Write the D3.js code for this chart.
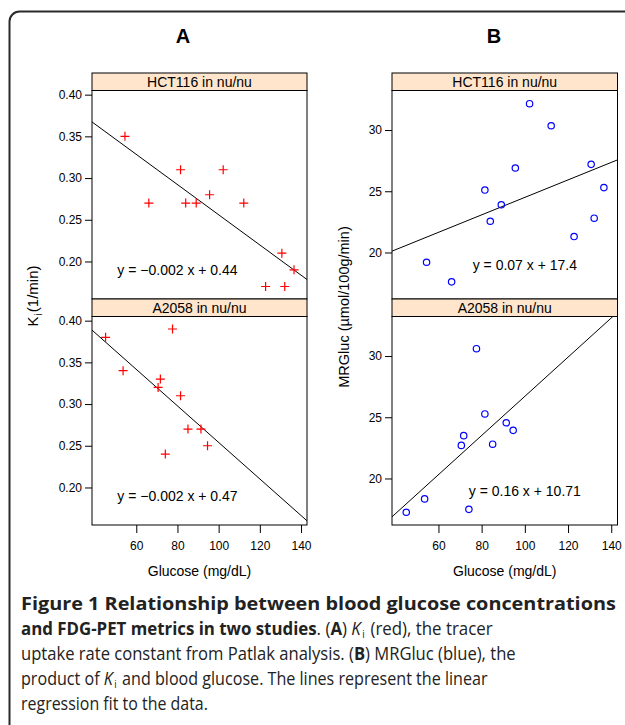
<!DOCTYPE html>
<html>
  <head>
    <style>
      html,
      body { margin: 0; background: #fff; }
      svg { display: block; }
      .chart text { font-family: "Liberation Sans", Arial, sans-serif; fill: #000; }
      .caption text { font-family: "Open Sans", "Noto Sans", sans-serif; fill: #222; }
    </style>
    <script src="https://d3js.org/d3.v7.js"></script>
  </head>
  <body>
    <svg class="chart"></svg>

    <script>
      const width = 625;
      const height = 725;

      // data
      const glucoseHCT = [54.5, 66.1, 81.5, 84.0, 89.1, 95.6, 102.2, 112.2, 122.8, 130.7, 132.1, 136.6];
      const kiHCT = [0.35, 0.27, 0.31, 0.27, 0.27, 0.28, 0.31, 0.27, 0.17, 0.21, 0.17, 0.19];
      const mrglucHCT = [19.2, 17.6, 25.1, 22.55, 23.9, 26.9, 32.15, 30.35, 21.3, 27.2, 22.8, 25.3];

      const glucoseA2058 = [45.1, 53.6, 70.6, 71.7, 74.1, 77.6, 81.5, 85.1, 91.4, 94.6];
      const kiA2058 = [0.38, 0.34, 0.32, 0.33, 0.24, 0.39, 0.31, 0.27, 0.27, 0.25];
      const mrglucA2058 = [17.24, 18.33, 22.7, 23.5, 17.48, 30.6, 25.27, 22.8, 24.55, 23.93];

      // regression lines [slope, intercept]
      const kiFitHCT = [-0.00181, 0.437];
      const kiFitA2058 = [-0.00219, 0.473];
      const mrglucFitHCT = [0.0714, 17.36];
      const mrglucFitA2058 = [0.16, 10.71];

      const kiEquations = ['y = \u22120.002 x + 0.44', 'y = \u22120.002 x + 0.47'];
      const mrglucEquations = ['y = 0.07 x + 17.4', 'y = 0.16 x + 10.71'];

      const stripLabels = ['HCT116 in nu/nu', 'A2058 in nu/nu'];
      const glucoseTicks = [60, 80, 100, 120, 140];
      const kiTicks = [0.20, 0.25, 0.30, 0.35, 0.40];
      const mrglucTicks = [20, 25, 30];

      const svg = d3.select('svg')
        .attr('width', width)
        .attr('height', height);

      // outer frame with rounded corner
      svg.append('path')
        .attr('d', 'M9.5,725 V21.5 A10,10 0 0 1 19.5,11.5 H625')
        .attr('fill', 'none')
        .attr('stroke', '#2a2a2a')
        .attr('stroke-width', 2);

      // layout
      const stripH = 17.5;
      const rows = [
        { top: 73, bottom: 299 },
        { top: 299, bottom: 525 }
      ];

      const columns = [
        {
          title: 'A', titleX: 183, x0: 92, x1: 307,
          yDomain: [0.155, 0.405], ticks: kiTicks, format: d3.format('.2f'),
          eqX: 80, eqY: 0.19, eqs: kiEquations,
          panels: [
            { g: glucoseHCT, v: kiHCT, fit: kiFitHCT },
            { g: glucoseA2058, v: kiA2058, fit: kiFitA2058 }
          ],
          marker: 'plus'
        },
        {
          title: 'B', titleX: 494, x0: 392, x1: 617.5,
          yDomain: [16.2, 33.23], ticks: mrglucTicks, format: d3.format('d'),
          eqX: 100, eqY: 19, eqs: mrglucEquations,
          panels: [
            { g: glucoseHCT, v: mrglucHCT, fit: mrglucFitHCT },
            { g: glucoseA2058, v: mrglucA2058, fit: mrglucFitA2058 }
          ],
          marker: 'circle'
        }
      ];

      columns.forEach((col, ci) => {
        const x = d3.scaleLinear().domain([38.5, 142.9]).range([col.x0, col.x1]);

        svg.append('text')
          .attr('x', col.titleX)
          .attr('y', 43)
          .attr('text-anchor', 'middle')
          .style('font-size', '20px')
          .style('font-weight', 'bold')
          .text(col.title);

        col.panels.forEach((p, ri) => {
          const row = rows[ri];
          const bodyTop = row.top + stripH;
          const y = d3.scaleLinear().domain(col.yDomain).range([row.bottom, bodyTop]);
          const g = svg.append('g');

          const clipId = `clip-${ci}-${ri}`;
          svg.append('clipPath').attr('id', clipId)
            .append('rect')
            .attr('x', col.x0).attr('y', bodyTop)
            .attr('width', col.x1 - col.x0).attr('height', row.bottom - bodyTop);

          // strip
          g.append('rect')
            .attr('x', col.x0).attr('y', row.top)
            .attr('width', col.x1 - col.x0).attr('height', stripH)
            .attr('fill', '#ffe5cc')
            .attr('stroke', '#000');

          g.append('text')
            .attr('x', (col.x0 + col.x1) / 2)
            .attr('y', row.top + stripH / 2 + 5)
            .attr('text-anchor', 'middle')
            .style('font-size', '14px')
            .text(stripLabels[ri]);

          // panel box
          g.append('rect')
            .attr('x', col.x0).attr('y', bodyTop)
            .attr('width', col.x1 - col.x0).attr('height', row.bottom - bodyTop)
            .attr('fill', 'none')
            .attr('stroke', '#000');

          // regression line
          const [slope, icpt] = p.fit;
          const xd = x.domain();
          g.append('line')
            .attr('clip-path', `url(#${clipId})`)
            .attr('x1', x(xd[0])).attr('y1', y(icpt + slope * xd[0]))
            .attr('x2', x(xd[1])).attr('y2', y(icpt + slope * xd[1]))
            .attr('stroke', '#000')
            .attr('stroke-width', 1);

          // points
          const pts = p.g.map((gv, i) => [gv, p.v[i]]);
          if (col.marker === 'plus') {
            g.selectAll('path.pt')
              .data(pts)
              .join('path')
              .attr('class', 'pt')
              .attr('transform', (d) => `translate(${x(d[0])},${y(d[1])})`)
              .attr('d', 'M-4.5,0H4.5M0,-4.5V4.5')
              .attr('stroke', '#ff0000')
              .attr('stroke-width', 1.2)
              .attr('fill', 'none');
          } else {
            g.selectAll('circle.pt')
              .data(pts)
              .join('circle')
              .attr('class', 'pt')
              .attr('cx', (d) => x(d[0]))
              .attr('cy', (d) => y(d[1]))
              .attr('r', 3.2)
              .attr('stroke', '#0000ff')
              .attr('stroke-width', 1.2)
              .attr('fill', 'none');
          }

          // equation
          g.append('text')
            .attr('x', x(col.eqX))
            .attr('y', y(col.eqY) + 5)
            .attr('text-anchor', 'middle')
            .style('font-size', '14px')
            .text(col.eqs[ri]);

          // y axis
          const yAxis = g.append('g')
            .attr('transform', `translate(${col.x0},0)`)
            .call(d3.axisLeft(y).tickValues(col.ticks).tickFormat(col.format).tickSize(7).tickPadding(3));
          yAxis.select('.domain').remove();
          yAxis.selectAll('text').style('font-size', '12px').attr('font-family', null);

          // x axis on the bottom panel only
          if (ri === rows.length - 1) {
            const xAxis = g.append('g')
              .attr('transform', `translate(0,${row.bottom})`)
              .call(d3.axisBottom(x).tickValues(glucoseTicks).tickSize(8).tickPadding(8));
            xAxis.select('.domain').remove();
            xAxis.selectAll('text').style('font-size', '12px').attr('font-family', null);
          }
        });

        // x label
        svg.append('text')
          .attr('x', (col.x0 + col.x1) / 2)
          .attr('y', 576)
          .attr('text-anchor', 'middle')
          .style('font-size', '14px')
          .text('Glucose (mg/dL)');
      });

      // y labels
      const kiLabel = svg.append('text')
        .attr('transform', 'translate(38,296) rotate(-90)')
        .attr('text-anchor', 'middle')
        .style('font-size', '15px');
      kiLabel.append('tspan').text('K');
      kiLabel.append('tspan').attr('dx', 1).attr('dy', 4).style('font-size', '10px').text('i');
      kiLabel.append('tspan').attr('dx', 1).attr('dy', -4).text('(1/min)');

      svg.append('text')
        .attr('transform', 'translate(349,307) rotate(-90)')
        .attr('text-anchor', 'middle')
        .style('font-size', '14.5px')
        .text('MRGluc (\u00b5mol/100g/min)');

      // caption
      const cap = svg.append('g').attr('class', 'caption');
      const capLines = [
        { y: 610, w: 595, parts: [['Figure 1 Relationship between blood glucose concentrations', 'b']] },
        { y: 635, w: 469, parts: [['and FDG-PET metrics in two studies', 'b'], ['. (', ''], ['A', 'b'], [') ', ''], ['K', 'i'], ['i', 's'], [' (red), the tracer', '']] },
        { y: 660, w: 495, parts: [['uptake rate constant from Patlak analysis. (', ''], ['B', 'b'], [') MRGluc (blue), the', '']] },
        { y: 685, w: 464, parts: [['product of ', ''], ['K', 'i'], ['i', 's'], [' and blood glucose. The lines represent the linear', '']] },
        { y: 710, w: 187, parts: [['regression fit to the data.', '']] }
      ];

      capLines.forEach((line) => {
        const lg = cap.append('g');
        const t = lg.append('text')
          .attr('x', 0)
          .attr('y', 0)
          .style('font-size', '18px');
        let shifted = false;
        line.parts.forEach(([str, st]) => {
          const ts = t.append('tspan').text(str);
          if (st === 'b') ts.style('font-weight', 'bold');
          if (st === 'i') ts.style('font-style', 'italic');
          if (st === 's') {
            ts.style('font-size', '10.5px').attr('dx', 1.5).attr('dy', 2.5);
            shifted = true;
          } else if (shifted) {
            ts.attr('dx', 1.5).attr('dy', -2.5);
            shifted = false;
          }
        });
        // squeeze the line horizontally to the width it has in the figure
        const natural = t.node().getComputedTextLength();
        lg.attr('transform', `translate(21,${line.y}) scale(${line.w / natural},1)`);
      });
    </script>
  </body>
</html>
